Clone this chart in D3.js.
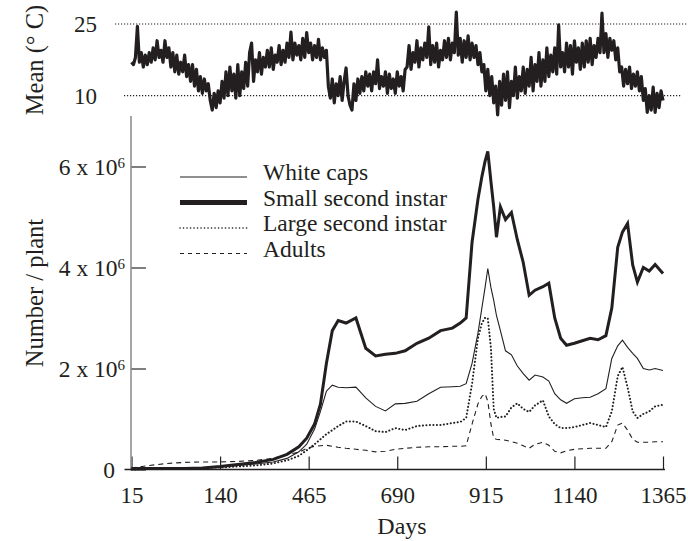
<!DOCTYPE html>
<html>
<head>
<meta charset="utf-8">
<script src="https://cdn.jsdelivr.net/npm/d3@7"></script>
<style>
body { margin: 0; background: #fff; }
text { font-family: "Liberation Serif", "Times New Roman", serif; fill: #231f20; }
</style>
</head>
<body>
<div id="chart-area"></div>
<script>
// sampling days for the population series
var days = [15, 60, 105, 150, 195, 240, 285, 330, 375, 410, 440, 460, 480, 495, 510, 525, 540, 560, 585, 610,
	635, 660, 685, 710, 740, 770, 800, 830, 850, 865, 880, 895, 905, 913, 920, 928, 935, 942, 952, 965,
	980, 995, 1010, 1025, 1040, 1060, 1075, 1090, 1105, 1120, 1140, 1160, 1180, 1200, 1220, 1235, 1250, 1262, 1275, 1288,
	1300, 1315, 1330, 1345, 1365];

// numbers per plant, in millions
var whiteCaps = [0.01, 0.01, 0.01, 0.02, 0.03, 0.05, 0.08, 0.11, 0.15, 0.22, 0.35, 0.5, 0.8, 1.15, 1.55, 1.67, 1.63, 1.62, 1.63, 1.42,
	1.25, 1.16, 1.3, 1.31, 1.35, 1.5, 1.63, 1.64, 1.65, 1.7, 2.1, 2.7, 3.2, 3.6, 3.98, 3.6, 3.35, 3.05, 2.75, 2.35,
	2.27, 2.05, 1.9, 1.77, 1.87, 1.83, 1.75, 1.5, 1.38, 1.31, 1.4, 1.42, 1.43, 1.5, 1.6, 2.2, 2.45, 2.56, 2.42, 2.3,
	2.2, 2.0, 1.97, 2.0, 1.96];
var smallSecond = [0.02, 0.02, 0.02, 0.02, 0.03, 0.06, 0.1, 0.14, 0.2, 0.3, 0.45, 0.62, 0.9, 1.3, 2.1, 2.75, 2.95, 2.9, 3.0, 2.4,
	2.25, 2.28, 2.3, 2.35, 2.5, 2.6, 2.75, 2.8, 2.9, 3.0, 4.5, 5.35, 5.8, 6.1, 6.3, 5.7, 5.2, 4.6, 5.2, 4.95,
	5.09, 4.55, 4.1, 3.45, 3.55, 3.62, 3.69, 3.0, 2.6, 2.46, 2.5, 2.55, 2.6, 2.57, 2.65, 3.2, 4.4, 4.7, 4.87, 4.05,
	3.71, 4.0, 3.93, 4.06, 3.88];
var largeSecond = [0.0, 0.01, 0.01, 0.02, 0.03, 0.04, 0.06, 0.08, 0.12, 0.18, 0.27, 0.38, 0.5, 0.6, 0.7, 0.78, 0.86, 0.95, 0.95, 0.86,
	0.76, 0.74, 0.82, 0.78, 0.86, 0.88, 0.88, 0.92, 0.94, 1.02, 1.7, 2.6, 2.9, 3.0, 3.0, 2.4, 1.2, 1.02, 1.04, 1.05,
	1.23, 1.31, 1.2, 1.14, 1.27, 1.37, 1.05, 0.9, 0.82, 0.82, 0.84, 0.88, 0.92, 0.88, 0.84, 1.15, 1.85, 2.03, 1.63, 1.15,
	1.02, 1.1, 1.15, 1.25, 1.28];
var adults = [0.03, 0.08, 0.12, 0.14, 0.15, 0.15, 0.16, 0.18, 0.22, 0.3, 0.34, 0.42, 0.46, 0.47, 0.48, 0.46, 0.44, 0.42, 0.4, 0.38,
	0.35, 0.36, 0.4, 0.42, 0.44, 0.45, 0.45, 0.46, 0.46, 0.47, 0.9, 1.3, 1.45, 1.5, 1.35, 0.9, 0.62, 0.6, 0.59, 0.58,
	0.55, 0.52, 0.47, 0.42, 0.5, 0.54, 0.48, 0.36, 0.33, 0.37, 0.4, 0.41, 0.42, 0.42, 0.42, 0.55, 0.88, 0.92, 0.78, 0.6,
	0.54, 0.54, 0.54, 0.55, 0.55];

// mean temperature (deg C), every 5 days from day 15
var meanTemp = [
	17, 16.5, 18, 24.5, 17, 19, 16, 18.5, 16.5, 19,
	17, 20, 17.5, 21.5, 18, 19.5, 17, 21.5, 18, 20,
	16, 19, 15, 18.5, 14.5, 17, 15, 18.5, 14, 16.5,
	13, 16.5, 12, 15.5, 11, 14, 10.5, 13.5, 11, 12.5,
	9, 7, 10.5, 7.5, 11, 8.5, 13, 9.5, 15, 10,
	16, 11, 14.5, 9.5, 16.5, 10, 15, 11.5, 17, 12,
	19, 21, 13, 17.5, 15, 19, 14.5, 18, 16, 19.5,
	16, 20, 15.5, 18.5, 17, 20.5, 16.5, 19.5, 17, 21,
	18, 23.3, 17.5, 21, 18.5, 20.5, 17.5, 22, 18, 23.2,
	19, 21, 17.5, 20.5, 18, 21.8, 17.5, 20, 18, 19.5,
	12, 9.5, 13.5, 8.5, 12.5, 10, 14, 9, 13, 15.8,
	10, 8, 7, 12.5, 9, 13.5, 10.5, 14, 11, 15,
	12, 14.5, 11, 15, 12.5, 17.5, 11.5, 14, 12, 15,
	10.5, 14.5, 11.5, 13.5, 10.5, 15, 12, 14, 11, 15.5,
	16, 20.5, 15.5, 19, 17, 21.5, 16, 20, 17.5, 21,
	18, 24.4, 16.5, 20.5, 17, 21, 16, 19.5, 17.5, 21.5,
	18, 22, 17.5, 21, 19, 27.5, 18.5, 22, 17, 21.5,
	18, 22.5, 17.5, 21, 18, 20.5, 16.5, 19, 15, 16.5,
	11, 15.5, 10, 14, 8.5, 12, 6, 13, 8, 14.5,
	9, 15, 7.5, 13, 10, 16, 9.5, 14, 11, 16,
	10.5, 15.5, 12, 18, 11, 16.5, 13, 19, 12, 17.5,
	13, 20, 14, 18.5, 15, 20, 14.5, 24.8, 16, 19,
	15, 21, 16, 20.5, 14.5, 21.5, 17, 20, 15.5, 21,
	16, 21.5, 17, 22, 16.5, 20.5, 18, 22, 19, 27.3,
	19, 23, 18, 22, 19.5, 21.5, 17.5, 20, 15, 16,
	12, 15.5, 12.5, 16, 11.5, 14.5, 12, 15, 11, 14,
	9, 11.5, 6.5, 10, 7, 11.8, 6.5, 10.5, 7.5, 11,
	9];
var tempStartDay = 15;
var tempStepDays = 5;

var tempTicks = [25, 10];
var xTickValues = [15, 240, 465, 690, 915, 1140, 1365];
var xTickLabels = ["15", "140", "465", "690", "915", "1140", "1365"];
var yTickValues = [0, 2e6, 4e6, 6e6];
var yTickBase = ["0", "2 x 10", "4 x 10", "6 x 10"];
var yTickExp = ["", "6", "6", "6"];

var seriesNames = ["White caps", "Small second instar", "Large second instar", "Adults"];
var seriesValues = [whiteCaps, smallSecond, largeSecond, adults];
var seriesWidth = [1.1, 3, 2, 1.1];
var seriesDash = [null, null, "0.1,3.4", "5,4"];

var width = 688, height = 541;

var svg = d3.select("#chart-area")
	.append("svg")
	.attr("width", width)
	.attr("height", height);

svg.append("rect").attr("width", width).attr("height", height).attr("fill", "#fff");

var x = d3.scaleLinear()
	.domain([15, 1365])
	.range([131.5, 663]);

var y = d3.scaleLinear()
	.domain([0, 7e6])
	.range([469.5, 116]);

var yTemp = d3.scaleLinear()
	.domain([10, 25])
	.range([95.7, 24]);

// ---- top panel: mean temperature
var tempPanel = svg.append("g").attr("class", "temp");

tempPanel.selectAll(".ref")
	.data(tempTicks)
	.enter()
	.append("line")
	.attr("x1", (d, i) => i == 0 ? 115 : 124)
	.attr("x2", (d, i) => i == 0 ? 688 : 681)
	.attr("y1", d => yTemp(d))
	.attr("y2", d => yTemp(d))
	.attr("stroke", "#231f20")
	.attr("stroke-width", 1.2)
	.attr("stroke-dasharray", "1.2,1.8");

tempPanel.selectAll(".tlabel")
	.data(tempTicks)
	.enter()
	.append("text")
	.attr("x", 97)
	.attr("y", d => yTemp(d))
	.attr("dy", "0.35em")
	.attr("text-anchor", "end")
	.style("font-size", "23px")
	.text(d => d);

var tempLine = d3.line()
	.x((d, i) => x(tempStartDay + i * tempStepDays))
	.y(d => yTemp(d));

tempPanel.append("path")
	.datum(meanTemp)
	.attr("d", tempLine)
	.attr("fill", "none")
	.attr("stroke", "#231f20")
	.attr("stroke-width", 3.2)
	.attr("stroke-linejoin", "round");

tempPanel.append("text")
	.attr("transform", "translate(43,60) rotate(-90)")
	.attr("text-anchor", "middle")
	.style("font-size", "24.5px")
	.text("Mean (° C)");

// ---- bottom panel
var g = svg.append("g").attr("class", "pop");

var xAxis = d3.axisBottom(x)
	.tickValues(xTickValues)
	.tickSizeInner(-13)
	.tickSizeOuter(0)
	.tickPadding(17)
	.tickFormat((d, i) => xTickLabels[i]);

var xAxisGroup = g.append("g")
	.attr("transform", "translate(0," + y(0) + ")")
	.call(xAxis);
xAxisGroup.select(".domain").remove();
xAxisGroup.selectAll(".tick line").attr("stroke", "#231f20").attr("stroke-width", 1.2);
xAxisGroup.selectAll(".tick text")
	.style("font-size", "23px")
	.style("font-family", "Liberation Serif")
	.attr("fill", "#231f20");

var yAxis = d3.axisLeft(y)
	.tickValues(yTickValues)
	.tickSizeInner(-15)
	.tickSizeOuter(0)
	.tickPadding(6)
	.tickFormat("");

var yAxisGroup = g.append("g")
	.attr("transform", "translate(" + 131 + ",0)")
	.call(yAxis);
yAxisGroup.select(".domain").remove();
yAxisGroup.selectAll(".tick line").attr("stroke", "#555").attr("stroke-width", 1.5);
yAxisGroup.selectAll(".tick text")
	.style("font-size", "23.5px")
	.style("font-family", "Liberation Serif")
	.attr("fill", "#231f20")
	.attr("dx", (d, i) => yTickExp[i] ? 0 : -10)
	.each(function(d, i) {
		var t = d3.select(this);
		t.append("tspan").text(yTickBase[i]);
		if (yTickExp[i]) {
			t.append("tspan")
				.attr("dy", "-0.45em")
				.style("font-size", "15px")
				.text(yTickExp[i]);
		}
	});

// axis lines
g.append("line")
	.attr("x1", 131).attr("x2", 131)
	.attr("y1", y.range()[1]).attr("y2", y(0))
	.attr("stroke", "#888")
	.attr("stroke-width", 1.5);

g.append("line")
	.attr("x1", x.range()[0] - 7).attr("x2", x.range()[1] + 2)
	.attr("y1", y(0)).attr("y2", y(0))
	.attr("stroke", "#231f20")
	.attr("stroke-width", 1.5);

var popLine = d3.line()
	.x((d, i) => x(days[i]))
	.y(d => y(d * 1e6));

g.selectAll(".series")
	.data(seriesValues)
	.enter()
	.append("path")
	.attr("class", "series")
	.attr("d", popLine)
	.attr("fill", "none")
	.attr("stroke", "#231f20")
	.attr("stroke-width", (d, i) => seriesWidth[i])
	.attr("stroke-linecap", (d, i) => i == 2 ? "round" : "butt")
	.attr("stroke-dasharray", (d, i) => seriesDash[i]);

// legend
var legend = g.append("g").attr("class", "legend");
var legendDash = [null, null, "0.1,3.4", "4,4"];
var legendWidth = [1.1, 5, 1.6, 1.1];

var items = legend.selectAll(".item")
	.data(seriesNames)
	.enter()
	.append("g")
	.attr("transform", (d, i) => "translate(0," + (177 + i * 25.5) + ")");

items.append("line")
	.attr("x1", 180).attr("x2", 247)
	.attr("stroke", "#231f20")
	.attr("stroke-width", (d, i) => legendWidth[i])
	.attr("stroke-linecap", (d, i) => i == 2 ? "round" : "butt")
	.attr("stroke-dasharray", (d, i) => legendDash[i]);

items.append("text")
	.attr("x", 263)
	.attr("y", 3)
	.style("font-size", "23.5px")
	.text(d => d);

g.append("text")
	.attr("transform", "translate(43,293) rotate(-90)")
	.attr("text-anchor", "middle")
	.style("font-size", "24.5px")
	.text("Number / plant");

g.append("text")
	.attr("x", 402)
	.attr("y", 534)
	.attr("text-anchor", "middle")
	.style("font-size", "24px")
	.text("Days");
</script>
</body>
</html>
